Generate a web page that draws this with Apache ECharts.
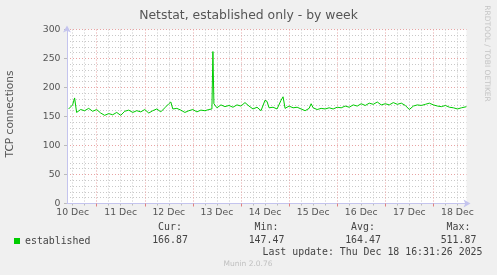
<!DOCTYPE html>
<html>
<head>
<meta charset="utf-8">
<script src="https://cdn.jsdelivr.net/npm/echarts@6/dist/echarts.min.js"></script>
<style>
html,body{margin:0;padding:0;background:#f0f0f0;}
#chart{width:497px;height:275px;}
</style>
</head>
<body>
<div id="chart"></div>
<script>
// Hours since 10 Dec 00:00
var hours = [10,12,13,14,16,18,20,22,24,26,28,30,32,34,36,38,40,42,44,46,48,50,52,54,56,58,60,61,62,64,66,68,70,72,74,76,78,80,81.5,82,82.5,84,86,88,90,92,94,96,98,100,102,104,106,108,109,110,112,114,116,117,118,120,122,124,126,128,130,131,132,134,136,138,140,142,144,146,148,150,152,154,156,158,160,162,164,166,168,170,172,174,176,178,180,182,184,186,188,190,192,194,196,198,200,202,204,206,208.5];
var connections = [163,170,182,157,162,160,164,159,162,156,152,155,153,157,152,159,161,157,160,158,162,156,160,163,158,165,172,175,163,164,161,157,160,162,158,161,160,162,163,262,172,165,170,167,169,166,170,168,174,168,163,166,160,178,176,165,166,163,178,184,164,168,165,166,163,160,164,172,165,162,164,163,165,163,166,165,168,166,170,168,172,169,173,171,175,170,172,170,174,171,173,169,162,168,170,169,171,173,170,168,167,169,166,165,163,165,166.9];
var dayLabels = ['10 Dec','11 Dec','12 Dec','13 Dec','14 Dec','15 Dec','16 Dec','17 Dec','18 Dec'];
var labelHours = [12,36,60,84,108,132,156,180,204];
var majorHours = [24,48,72,96,120,144,168,192];
var minorHours = [12,18,30,36,42,54,60,66,78,84,90,102,108,114,126,132,138,150,156,162,174,180,186,198,204];
var seriesName = 'established';
var statNames = ['Cur:','Min:','Avg:','Max:'];
var statValues = ['166.87','147.47','164.47','511.87'];
var statCenters = [170,266.5,363,458.5];
var titleText = 'Netstat, established only - by week';
var yTitle = 'TCP connections';
var lastUpdate = 'Last update: Thu Dec 18 16:31:26 2025';
var footer = 'Munin 2.0.76';
var sideText = 'RRDTOOL / TOBI OETIKER';

var xMin = 9.2, xMax = 208.52;
var sans = 'DejaVu Sans', mono = 'DejaVu Sans Mono';
var axisCol = '#c4c4ee';
var minorGrid = {color:'#c8c8c8', width:1, type:[1,2]};
var majorGrid = {color:'#e8a3a3', width:1, type:[1,2]};

var data = hours.map(function(h,i){return [h, connections[i]];});

var graphics = [
  {type:'text', left:'center', top:10, style:{text:titleText, font:'12.4px "DejaVu Sans"', fill:'#555'}},
  {type:'text', x:10.5, y:114, rotation:Math.PI/2, style:{text:yTitle, font:'10.6px "DejaVu Sans"', fill:'#555', align:'center', verticalAlign:'middle'}},
  {type:'text', x:487, y:53.5, rotation:-Math.PI/2, style:{text:sideText, font:'7.5px "DejaVu Sans"', fill:'#c4c4c4', align:'center', verticalAlign:'middle'}},
  {type:'text', x:482.5, y:252, style:{text:lastUpdate, font:'9.9px "DejaVu Sans Mono"', fill:'#444', align:'right', verticalAlign:'middle'}},
  {type:'text', x:248, y:264.5, style:{text:footer, font:'7.5px "DejaVu Sans"', fill:'#c0c0c0', align:'center', verticalAlign:'middle'}}
];
statNames.forEach(function(n,i){
  graphics.push({type:'text', x:statCenters[i], y:227.5, style:{text:n, font:'9.9px "DejaVu Sans Mono"', fill:'#444', align:'center', verticalAlign:'middle'}});
  graphics.push({type:'text', x:statCenters[i], y:240, style:{text:statValues[i], font:'9.9px "DejaVu Sans Mono"', fill:'#444', align:'center', verticalAlign:'middle'}});
});

var chart = echarts.init(document.getElementById('chart'), null, {renderer:'canvas'});
chart.setOption({
  animation:false,
  backgroundColor:'#f0f0f0',
  grid:{left:67, right:30.5, top:29.5, bottom:71.5, show:true, backgroundColor:'#ffffff', borderWidth:0},
  legend:{show:true, left:14, top:236, padding:0, itemWidth:6, itemHeight:6, icon:'rect', itemGap:10,
    textStyle:{fontFamily:mono, fontSize:9.9, color:'#444'}, data:[seriesName]},
  xAxis:[
    {type:'value', min:xMin, max:xMax, z:3,
      axisLine:{show:true, lineStyle:{color:axisCol}, symbol:['none','arrow'], symbolSize:[6,7], symbolOffset:[0,4]},
      axisTick:{show:true, customValues:majorHours, length:3, lineStyle:{color:'#e08080'}},
      axisLabel:{show:true, customValues:labelHours, margin:5, color:'#555', fontFamily:sans, fontSize:9.3,
        formatter:function(v){return dayLabels[Math.round((v-12)/24)];}},
      splitLine:{show:true, lineStyle:majorGrid}},
    {type:'value', min:xMin, max:xMax, position:'bottom', z:2,
      axisLine:{show:false},
      axisTick:{show:true, customValues:minorHours, length:2, lineStyle:{color:'#bbbbbb'}},
      axisLabel:{show:false},
      splitLine:{show:true, lineStyle:minorGrid}}
  ],
  yAxis:{type:'value', min:0, max:300, interval:50,
    axisLine:{show:true, lineStyle:{color:axisCol}, symbol:['none','arrow'], symbolSize:[6,7], symbolOffset:[0,4]},
    axisTick:{show:true, length:3, lineStyle:{color:'#bbbbbb'}},
    axisLabel:{margin:6.5, color:'#555', fontFamily:sans, fontSize:9.3},
    splitLine:{show:true, lineStyle:majorGrid},
    minorTick:{show:false, splitNumber:5},
    minorSplitLine:{show:true, lineStyle:minorGrid}},
  series:[{name:seriesName, type:'line', xAxisIndex:0, data:data, showSymbol:false, symbol:'none',
    lineStyle:{color:'#00cc00', width:1}, itemStyle:{color:'#00cc00'}, z:5}],
  graphic:graphics
});
</script>
</body>
</html>
